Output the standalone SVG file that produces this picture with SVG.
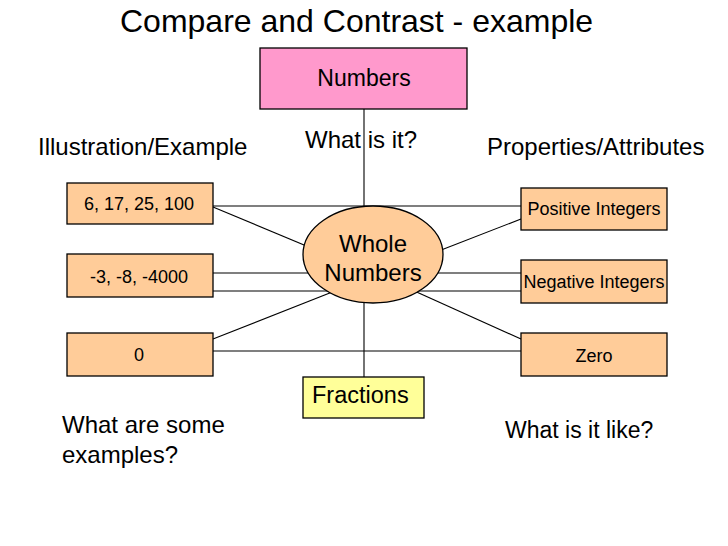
<svg xmlns="http://www.w3.org/2000/svg" width="728" height="546" viewBox="0 0 728 546">
<style>
text{font-family:"Liberation Sans",Arial,sans-serif;fill:#000}
.c{text-anchor:middle}
.box{stroke:#000;stroke-width:1.3}
.peach{fill:#FFCC99}
.ln{stroke:#000;stroke-width:1.1;fill:none}
.s18{font-size:18px}
.s24{font-size:24px}
</style>
<rect width="728" height="546" fill="#fff"/>
<text id="title" x="120" y="32" font-size="32">Compare and Contrast - example</text>
<g id="connectors">
<line class="ln" x1="364" y1="109" x2="364" y2="377"/>
<line class="ln" x1="213" y1="206" x2="521" y2="206"/>
<line class="ln" x1="213" y1="207" x2="340" y2="260"/>
<line class="ln" x1="213" y1="273" x2="521" y2="273"/>
<line class="ln" x1="213" y1="291" x2="521" y2="291"/>
<line class="ln" x1="213" y1="339" x2="350" y2="285"/>
<line class="ln" x1="213" y1="351" x2="521" y2="351"/>
<line class="ln" x1="400" y1="266" x2="521" y2="219"/>
<line class="ln" x1="390" y1="280" x2="521" y2="339"/>
</g>
<g id="numbers">
<rect class="box" x="260" y="48" width="207" height="61" fill="#FF99CC"/>
<text x="364" y="86" class="c" font-size="23">Numbers</text>
</g>
<g id="whole-numbers">
<ellipse class="box peach" cx="373" cy="254.5" rx="70" ry="48.5"/>
<text x="373" y="252" class="c s24">Whole</text>
<text x="373" y="281" class="c s24">Numbers</text>
</g>
<g id="fractions">
<rect class="box" x="303" y="377" width="121" height="41" fill="#FFFF99"/>
<text x="312" y="403" font-size="23.5">Fractions</text>
</g>
<g id="ex1">
<rect class="box peach" x="67" y="183" width="146" height="41"/>
<text x="139" y="210" class="c s18">6, 17, 25, 100</text>
</g>
<g id="ex2">
<rect class="box peach" x="67" y="254" width="146" height="43"/>
<text x="139" y="283" class="c s18">-3, -8, -4000</text>
</g>
<g id="ex3">
<rect class="box peach" x="67" y="333" width="146" height="43"/>
<text x="139" y="361" class="c s18">0</text>
</g>
<g id="prop1">
<rect class="box peach" x="521" y="188" width="146" height="42"/>
<text x="594" y="215" class="c s18">Positive Integers</text>
</g>
<g id="prop2">
<rect class="box peach" x="521" y="260" width="146" height="43"/>
<text x="594" y="288" class="c s18">Negative Integers</text>
</g>
<g id="prop3">
<rect class="box peach" x="521" y="333" width="146" height="43"/>
<text x="594" y="362" class="c s18">Zero</text>
</g>
<g id="labels">
<text x="305" y="148" class="s24">What is it?</text>
<text x="38" y="155" class="s24">Illustration/Example</text>
<text x="487" y="155" class="s24">Properties/Attributes</text>
<text x="62" y="433" class="s24">What are some</text>
<text x="62" y="463" class="s24">examples?</text>
<text x="505" y="438" font-size="23">What is it like?</text>
</g>
</svg>
